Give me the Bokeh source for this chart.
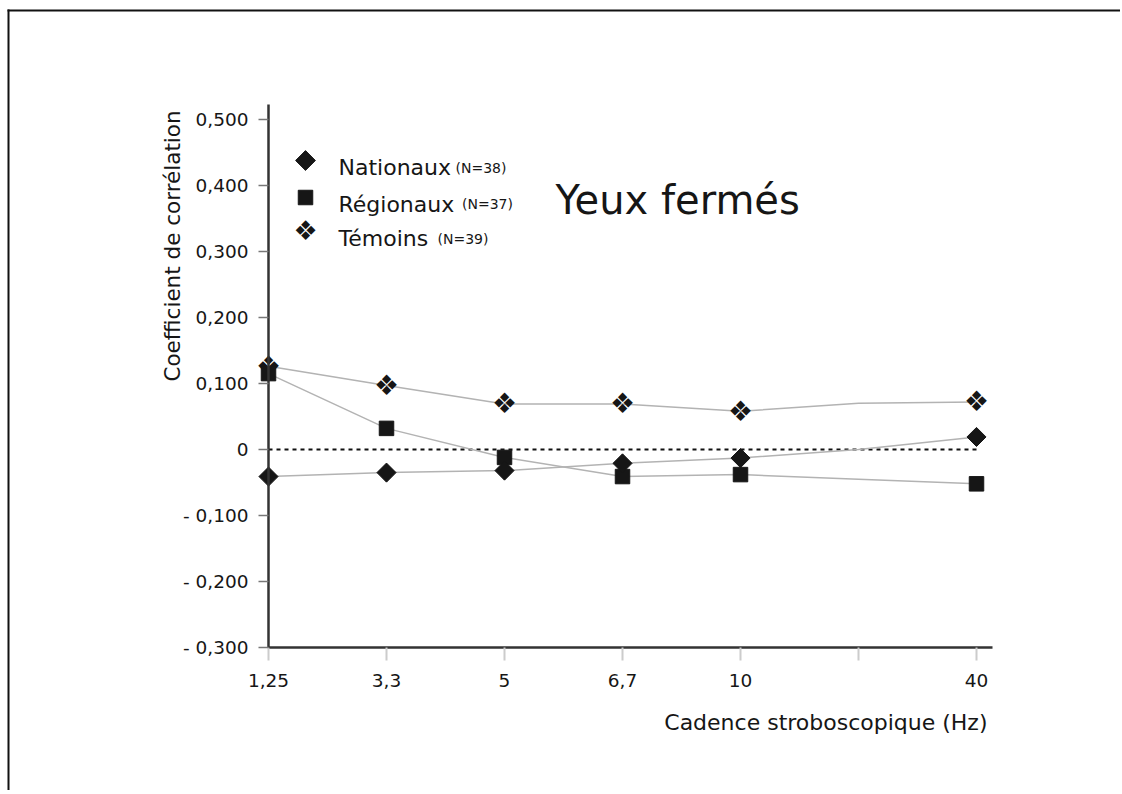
import math
from bokeh.plotting import figure
from bokeh.models import (FixedTicker, CustomJSTickFormatter, Label, BoxAnnotation,
                          Range1d, LinearAxis)
from bokeh.core.properties import value
from bokeh.embed import file_html
from bokeh.resources import INLINE

# ---------------- data ----------------
X_LABELS = ["1,25", "3,3", "5", "6,7", "10", "", "40"]
NATIONAUX = [-0.041, -0.035, -0.032, -0.021, -0.013, 0.000, 0.019]
REGIONAUX = [0.115, 0.032, -0.012, -0.041, -0.038, -0.045, -0.052]
TEMOINS = [0.126, 0.097, 0.069, 0.069, 0.058, 0.070, 0.072]
SERIES_NAMES = ["Nationaux", "Régionaux", "Témoins"]
SERIES_N = ["(N=38)", "(N=37)", "(N=39)"]
Y_TICKS = [-0.3, -0.2, -0.1, 0.0, 0.1, 0.2, 0.3, 0.4, 0.5]
Y_MIN, Y_MAX = -0.3, 0.5227
TITLE = "Yeux fermés"
X_TITLE = "Cadence stroboscopique (Hz)"
Y_TITLE = "Coefficient de corrélation"
ZERO_REF = 0.0

# ---------------- layout helpers ----------------
W, H = 1120, 790
FONT = "DejaVu Sans"
INK = "#161616"
LINE_GREY = "#b3b3b3"
X0_PX, UNIT_X = 268.0, 118.0       # page px of x index 0, px per category
Y0_PX, UNIT_Y = 449.0, 660.0       # page px of y=0, px per unit


def dx(px):
    return (px - X0_PX) / UNIT_X


def dy(py):
    return (Y0_PX - py) / UNIT_Y


xs = list(range(len(X_LABELS)))
marked = [i for i, lab in enumerate(X_LABELS) if lab != ""]

p = figure(width=W, height=H,
           x_range=Range1d(dx(0), dx(W)), y_range=Range1d(dy(H), dy(0)),
           x_axis_location=None, y_axis_location=None,
           output_backend="svg", toolbar_location=None,
           min_border_left=0, min_border_right=0,
           min_border_top=0, min_border_bottom=0)
p.outline_line_color = None
p.xgrid.visible = False
p.ygrid.visible = False
p.background_fill_color = "white"
p.border_fill_color = "white"

# x axis
xa = LinearAxis(fixed_location=Y_MIN)
xa.ticker = FixedTicker(ticks=xs)
xa.major_label_overrides = {i: lab for i, lab in enumerate(X_LABELS)}
xa.bounds = (0, dx(992))
xa.axis_line_color = "#333333"
xa.axis_line_width = 2.5
xa.major_tick_line_color = "#cccccc"
xa.major_tick_line_width = 2
xa.major_tick_out = 13
xa.major_tick_in = 0
xa.minor_tick_line_color = None
xa.major_label_standoff = 13
xa.major_label_text_font = FONT
xa.major_label_text_font_size = "18.5px"
xa.major_label_text_color = INK
p.add_layout(xa, "below")

# y axis
ya = LinearAxis(fixed_location=0)
ya.ticker = FixedTicker(ticks=Y_TICKS)
ya.bounds = (Y_MIN, Y_MAX)
ya.formatter = CustomJSTickFormatter(code="""
    if (Math.abs(tick) < 1e-9) { return "0"; }
    const s = Math.abs(tick).toFixed(3).replace(".", ",");
    return (tick < 0 ? "- " : "") + s;
""")
ya.axis_line_color = "#333333"
ya.axis_line_width = 2.5
ya.major_tick_line_color = "#777777"
ya.major_tick_line_width = 1.5
ya.major_tick_out = 10
ya.major_tick_in = 0
ya.minor_tick_line_color = None
ya.major_label_standoff = 10
ya.major_label_text_font = FONT
ya.major_label_text_font_size = "18.5px"
ya.major_label_text_color = INK
p.add_layout(ya, "left")

# zero reference line
p.segment(x0=[xs[0]], x1=[xs[-1]], y0=[ZERO_REF], y1=[ZERO_REF],
          line_color="#111111", line_width=2, line_dash="4 4")

# series lines
for ys in (TEMOINS, REGIONAUX, NATIONAUX):
    p.line(xs, ys, line_color=LINE_GREY, line_width=1.5)

# markers (only at labelled categories)
mx = [xs[i] for i in marked]
p.text(mx, [TEMOINS[i] for i in marked], text=["❖"] * len(mx),
       text_font=value(FONT), text_font_size="28px", text_color=INK,
       text_align="center", text_baseline="middle")
p.scatter(mx, [REGIONAUX[i] for i in marked], marker="square", size=14.5,
          fill_color=INK, line_color=INK)
p.scatter(mx, [NATIONAUX[i] for i in marked], marker="square", angle=math.pi / 4,
          size=13.5, fill_color=INK, line_color=INK)

# legend (manual)
LEG_MARK_X = dx(305)
LEG_ROWS_Y = [160, 197, 230]
LEG_BASE_Y = [167, 203.5, 238]
LEG_TEXT_X = dx(338)
LEG_N_X = [dx(455), dx(461.5), dx(437)]
p.scatter([LEG_MARK_X], [dy(LEG_ROWS_Y[0])], marker="square", angle=math.pi / 4,
          size=14, fill_color=INK, line_color=INK)
p.scatter([LEG_MARK_X], [dy(LEG_ROWS_Y[1])], marker="square", size=14.5,
          fill_color=INK, line_color=INK)
p.text([LEG_MARK_X], [dy(LEG_ROWS_Y[2])], text=["❖"],
       text_font=value(FONT), text_font_size="27px", text_color=INK,
       text_align="center", text_baseline="middle")
for k in range(3):
    p.add_layout(Label(x=LEG_TEXT_X, y=dy(LEG_BASE_Y[k]), text=SERIES_NAMES[k],
                       text_font=FONT, text_font_size="22px", text_color=INK,
                       text_align="left", text_baseline="alphabetic"))
    p.add_layout(Label(x=LEG_N_X[k], y=dy(LEG_BASE_Y[k]), text=SERIES_N[k],
                       text_font=FONT, text_font_size="14px", text_color=INK,
                       text_align="left", text_baseline="alphabetic"))

# title
p.add_layout(Label(x=dx(555), y=dy(199), text=TITLE, text_font=FONT,
                   text_font_size="40px", text_color=INK,
                   text_align="left", text_baseline="alphabetic"))
# axis titles
p.add_layout(Label(x=dx(987), y=dy(721.5), text=X_TITLE, text_font=FONT,
                   text_font_size="22px", text_color=INK,
                   text_align="right", text_baseline="alphabetic"))
p.add_layout(Label(x=dx(172), y=dy(245.5), text=Y_TITLE, text_font=FONT,
                   text_font_size="21.5px", text_color=INK, angle=math.pi / 2,
                   text_align="center", text_baseline="middle"))

# page frame (top and left rules as thin filled bands)
p.add_layout(BoxAnnotation(left=dx(7), right=dx(1400), top=dy(9), bottom=dy(11),
                           fill_alpha=1.0, fill_color="#111111", line_color=None))
p.add_layout(BoxAnnotation(left=dx(7), right=dx(9), top=dy(9), bottom=dy(1100),
                           fill_alpha=1.0, fill_color="#111111", line_color=None))

open("out.html", "w").write(file_html(p, INLINE))
